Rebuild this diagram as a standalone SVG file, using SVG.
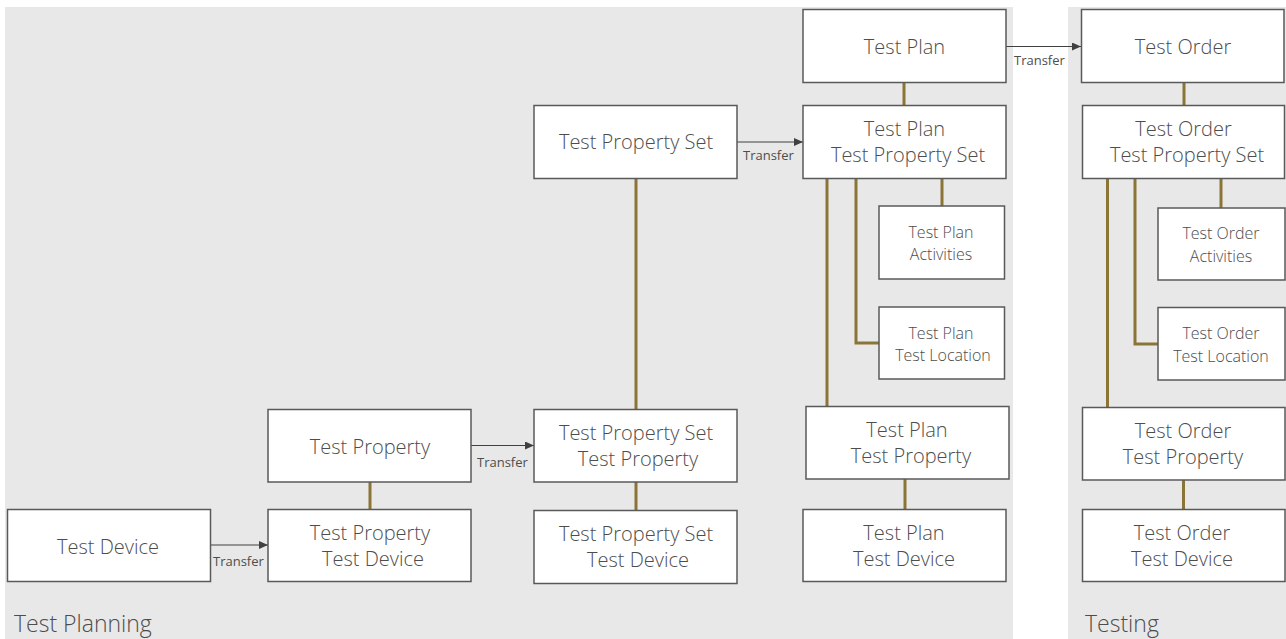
<svg xmlns="http://www.w3.org/2000/svg" width="1286" height="639" viewBox="0 0 1286 639">
<defs>
<style>
.panel{fill:#e8e8e8}
.box{fill:#ffffff;stroke:#595959;stroke-width:1.5}
.t{font-family:"Open Sans","Liberation Sans",sans-serif;font-size:20px;fill:#4d4d4d;text-anchor:middle;font-weight:300}
.s{font-family:"Open Sans","Liberation Sans",sans-serif;font-size:16px;fill:#4d4d4d;text-anchor:middle;font-weight:300}
.lab{font-family:"Open Sans","Liberation Sans",sans-serif;font-size:13px;fill:#4d4d4d}
.title{font-family:"Open Sans","Liberation Sans",sans-serif;font-size:23px;fill:#4d4d4d;font-weight:300}
.link{fill:none;stroke:#8a7536;stroke-width:3}
.arrow{fill:none;stroke:#404040;stroke-width:1}
</style>
<marker id="ah" markerWidth="10" markerHeight="8" refX="9" refY="4" orient="auto" markerUnits="userSpaceOnUse">
<path d="M0,0 L9,4 L0,8 Z" fill="#404040"/>
</marker>
</defs>
<g id="panels">
<rect class="panel" x="5" y="7" width="1008" height="632"/>
<rect class="panel" x="1068" y="7" width="218" height="632"/>
<text class="title" x="14" y="632">Test Planning</text>
<text class="title" x="1085" y="632">Testing</text>
</g>
<g id="connectors">
<line class="link" x1="904" y1="83" x2="904" y2="105"/>
<line class="link" x1="1184" y1="83" x2="1184" y2="105"/>
<line class="link" x1="942" y1="178" x2="942" y2="206"/>
<polyline class="link" points="856,178 856,343 879,343"/>
<line class="link" x1="827" y1="178" x2="827" y2="406"/>
<line class="link" x1="1221" y1="178" x2="1221" y2="208"/>
<polyline class="link" points="1135,178 1135,344 1158,344"/>
<line class="link" x1="1107.5" y1="178" x2="1107.5" y2="407"/>
<line class="link" x1="905" y1="479" x2="905" y2="509"/>
<line class="link" x1="1183.5" y1="480" x2="1183.5" y2="509"/>
<line class="link" x1="636" y1="178" x2="636" y2="409"/>
<line class="link" x1="636" y1="482" x2="636" y2="510"/>
<line class="link" x1="370" y1="482" x2="370" y2="509"/>
<line class="arrow" x1="1006" y1="46.5" x2="1081" y2="46.5" marker-end="url(#ah)"/>
<text class="lab" x="1014" y="65">Transfer</text>
<line class="arrow" x1="737" y1="142" x2="803" y2="142" marker-end="url(#ah)"/>
<text class="lab" x="743" y="160">Transfer</text>
<line class="arrow" x1="471" y1="445.5" x2="534" y2="445.5" marker-end="url(#ah)"/>
<text class="lab" x="477" y="467">Transfer</text>
<line class="arrow" x1="210" y1="545" x2="268" y2="545" marker-end="url(#ah)"/>
<text class="lab" x="213" y="566">Transfer</text>
</g>
<g id="test-plan"><rect class="box" x="803" y="9.5" width="203" height="73"/><text class="t" x="904.5" y="54">Test Plan</text></g>
<g id="test-order"><rect class="box" x="1081.5" y="9.5" width="202.5" height="73"/><text class="t" x="1183" y="54">Test Order</text></g>
<g id="test-plan-tps"><rect class="box" x="803" y="105.5" width="203" height="73"/><text class="t" x="904.5" y="136">Test Plan</text><text class="t" x="908" y="162">Test Property Set</text></g>
<g id="test-order-tps"><rect class="box" x="1082.5" y="105.5" width="202" height="73"/><text class="t" x="1183.5" y="136">Test Order</text><text class="t" x="1187" y="162">Test Property Set</text></g>
<g id="test-plan-activities"><rect class="box" x="879" y="206" width="125.5" height="73"/><text class="s" x="941" y="238">Test Plan</text><text class="s" x="941" y="260">Activities</text></g>
<g id="test-plan-location"><rect class="box" x="879" y="307" width="125.5" height="72"/><text class="s" x="941" y="339">Test Plan</text><text class="s" x="943" y="361">Test Location</text></g>
<g id="test-order-activities"><rect class="box" x="1158" y="208" width="127" height="72"/><text class="s" x="1221" y="239">Test Order</text><text class="s" x="1221" y="262">Activities</text></g>
<g id="test-order-location"><rect class="box" x="1158" y="307.5" width="127" height="72.5"/><text class="s" x="1221" y="339">Test Order</text><text class="s" x="1221" y="362">Test Location</text></g>
<g id="test-property-set"><rect class="box" x="534" y="105.5" width="203" height="73"/><text class="t" x="636" y="149">Test Property Set</text></g>
<g id="test-plan-tp"><rect class="box" x="806" y="406.5" width="203" height="72.5"/><text class="t" x="907" y="437">Test Plan</text><text class="t" x="911" y="463">Test Property</text></g>
<g id="test-plan-td"><rect class="box" x="803" y="509.5" width="203" height="72"/><text class="t" x="904" y="540">Test Plan</text><text class="t" x="904" y="566">Test Device</text></g>
<g id="test-order-tp"><rect class="box" x="1082.5" y="407.5" width="202.5" height="72.5"/><text class="t" x="1183" y="438">Test Order</text><text class="t" x="1183" y="464">Test Property</text></g>
<g id="test-order-td"><rect class="box" x="1082.5" y="509.5" width="202.5" height="72"/><text class="t" x="1182" y="540">Test Order</text><text class="t" x="1182" y="566">Test Device</text></g>
<g id="tps-tp"><rect class="box" x="534" y="409.5" width="203" height="72.5"/><text class="t" x="636" y="440">Test Property Set</text><text class="t" x="638" y="466">Test Property</text></g>
<g id="tps-td"><rect class="box" x="534" y="510.5" width="203" height="73"/><text class="t" x="636" y="541">Test Property Set</text><text class="t" x="638" y="567">Test Device</text></g>
<g id="test-property"><rect class="box" x="268" y="409.5" width="203" height="72.5"/><text class="t" x="370" y="454">Test Property</text></g>
<g id="test-property-td"><rect class="box" x="268" y="509.5" width="203" height="72"/><text class="t" x="370" y="540">Test Property</text><text class="t" x="373" y="566">Test Device</text></g>
<g id="test-device"><rect class="box" x="7.5" y="509.5" width="203" height="72"/><text class="t" x="108" y="554">Test Device</text></g>
</svg>
